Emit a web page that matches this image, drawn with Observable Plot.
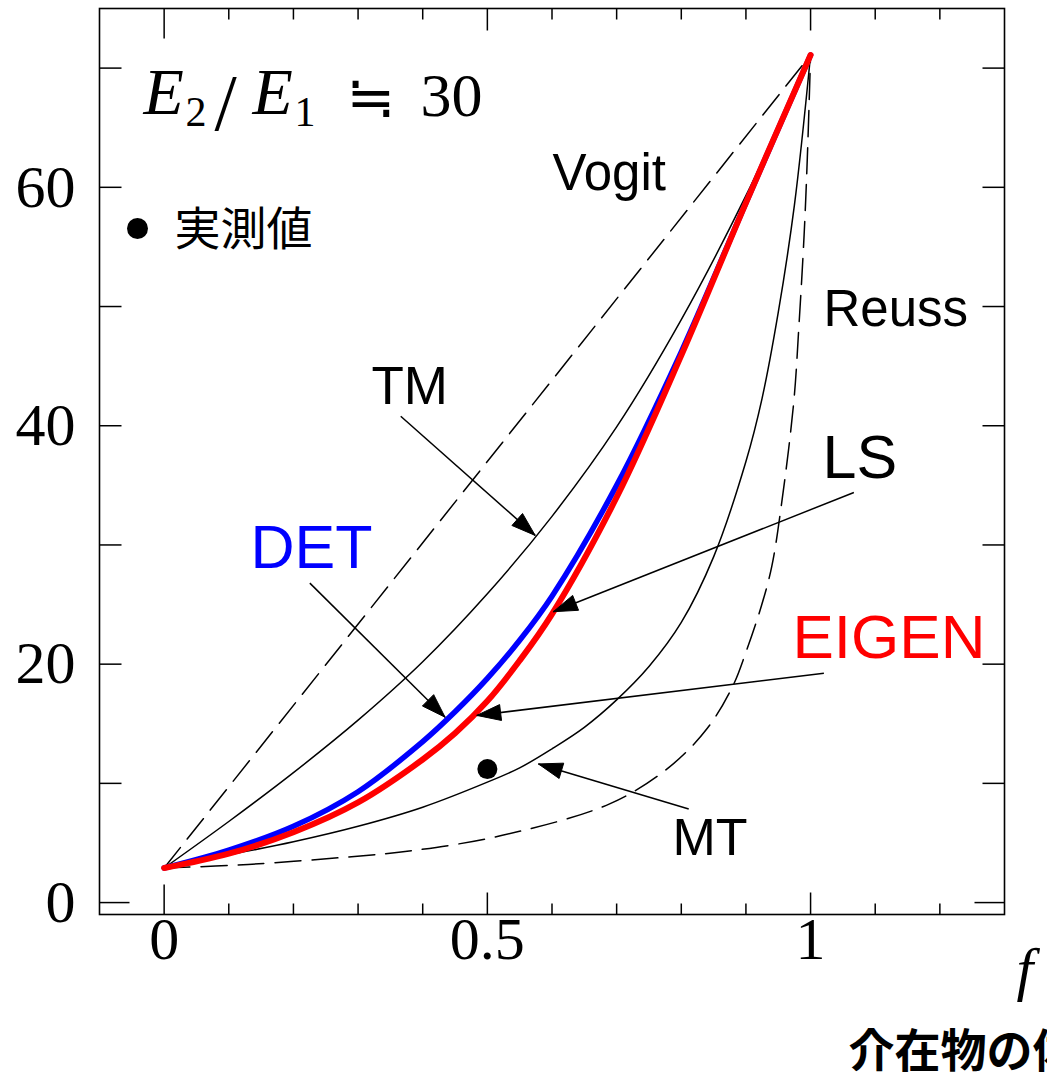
<!DOCTYPE html>
<html><head><meta charset="utf-8">
<script src="https://cdn.jsdelivr.net/npm/d3@7"></script>
<script src="https://cdn.jsdelivr.net/npm/@observablehq/plot@0.6"></script>
<style>html,body{margin:0;padding:0;background:#fff;overflow:hidden}</style>
</head><body><div id="chart"></div>
<script>
// ---- data (f = volume fraction of inclusion, E = modulus) ----
const voigtF = [0, 1];
const voigtE = [2.9, 71.1];

const reussF = [0, 0.13, 0.29, 0.39, 0.52, 0.69, 0.78, 0.84, 0.88, 0.90, 0.924, 0.94, 0.955, 0.974, 0.982, 0.99, 0.995, 1];
const reussE = [2.9, 3.2, 3.85, 4.4, 5.6, 8.3, 11.3, 14.6, 18.2, 21.0, 24.9, 28.2, 33.4, 42.0, 48.4, 56.0, 62.5, 71.1];

const mtF = [0, 0.1, 0.2, 0.3, 0.4, 0.5, 0.55, 0.6, 0.65, 0.7, 0.75, 0.8, 0.85, 0.9, 0.925, 0.95, 0.975, 1];
const mtE = [2.9, 4.0, 5.1, 6.4, 8.0, 10.1, 11.3, 12.9, 14.7, 17.0, 19.8, 23.5, 29.0, 37.0, 42.3, 49.5, 58.5, 71.1];

const tmF = [0, 0.1, 0.2, 0.3, 0.4, 0.5, 0.6, 0.7, 0.8, 0.9, 1];
const tmE = [2.9, 6.8, 10.9, 15.3, 20.2, 25.9, 32.4, 39.9, 48.9, 59.3, 71.1];

const detF = [0, 0.1, 0.2, 0.3, 0.4, 0.45, 0.5, 0.55, 0.6, 0.7, 0.8, 0.9, 1];
const detE = [2.9, 4.4, 6.4, 9.3, 13.5, 16.0, 18.8, 22.0, 25.7, 35.0, 46.2, 58.7, 71.1];

const eigenF = [0, 0.1, 0.2, 0.3, 0.4, 0.45, 0.5, 0.55, 0.6, 0.7, 0.8, 0.9, 1];
const eigenE = [2.9, 4.1, 5.9, 8.4, 12.0, 14.2, 16.9, 20.3, 24.2, 34.0, 45.9, 58.7, 71.1];

const measuredF = [0.5];
const measuredE = [11.2];

// arrows: label -> curve
const arrowNames = ["TM", "DET", "LS", "EIGEN", "MT"];
const arrowFromF = [0.366, 0.2254, 1.067, 1.0206, 0.8115];
const arrowFromE = [40.8, 26.8, 34.4, 19.24, 7.85];
const arrowToF   = [0.574, 0.4346, 0.602, 0.4836, 0.579];
const arrowToE   = [30.8, 15.55, 24.4, 15.7, 11.63];

const xTickMinor = [0.1, 0.2, 0.3, 0.4, 0.6, 0.7, 0.8, 0.9, 1.1, 1.2];
const xTickMajor = [0.5, 1];
const xTickZero = [0];
const yTickMajor = [10, 20, 30, 40, 50, 60, 70];
const yTickZero = [0];
const xTickLabels = [0, 0.5, 1];
const yTickLabels = [0, 20, 40, 60];

// ---- layout ----
const W = 1047, H = 1072, mL = 99, mR = 43, mT = 8, mB = 158;
const xDom = [-0.1, 1.3], yDom = [-1, 75];
const kx = (W - mL - mR) / (xDom[1] - xDom[0]);
const ky = (H - mT - mB) / (yDom[1] - yDom[0]);

const rows = (F, E) => F.map((f, i) => ({f, E: E[i]}));
const tickSym = (dx, dy) => ({draw(ctx) { ctx.moveTo(0, 0); ctx.lineTo(dx, dy); }});
function headSym(theta) {
  const L = 24, w = 8, c = Math.cos(theta), s = Math.sin(theta);
  const p = [[0, 0], [-w, L], [w, L]].map(([x, y]) => [x * c - y * s, x * s + y * c]);
  return {draw(ctx) { ctx.moveTo(p[0][0], p[0][1]); ctx.lineTo(p[1][0], p[1][1]); ctx.lineTo(p[2][0], p[2][1]); ctx.closePath(); }};
}

const thin = {x: "f", y: "E", stroke: "black", strokeWidth: 1.5, curve: "catmull-rom"};
const dashed = {...thin, strokeDasharray: "26,11"};

const tickMarks = [];
function ticks(vals, len) {
  const o = {stroke: "black", strokeWidth: 1.5, fill: "none"};
  tickMarks.push(
    Plot.dot(vals, {...o, x: d => d, frameAnchor: "bottom", symbol: tickSym(0, -len)}),
    Plot.dot(vals, {...o, x: d => d, frameAnchor: "top", symbol: tickSym(0, len)})
  );
}
function yticks(vals, len) {
  const o = {stroke: "black", strokeWidth: 1.5, fill: "none"};
  tickMarks.push(
    Plot.dot(vals, {...o, y: d => d, frameAnchor: "left", symbol: tickSym(len, 0)}),
    Plot.dot(vals, {...o, y: d => d, frameAnchor: "right", symbol: tickSym(-len, 0)})
  );
}
ticks(xTickMinor, 11); ticks(xTickMajor, 22); ticks(xTickZero, 30);
yticks(yTickMajor, 22); yticks(yTickZero, 30);

const heads = arrowNames.map((n, i) => {
  const dx = (arrowToF[i] - arrowFromF[i]) * kx;
  const dy = -(arrowToE[i] - arrowFromE[i]) * ky;
  const th = Math.atan2(dx, -dy);
  return Plot.dot([i], {x: j => arrowToF[j], y: j => arrowToE[j], symbol: headSym(th), fill: "black", stroke: "black", strokeWidth: 1});
});

const sans = "'Liberation Sans', Arial, sans-serif";
const serif = "'Liberation Serif', 'Times New Roman', serif";
const cjk = "'Noto Sans CJK JP', sans-serif";
const lab = (t, dx, dy, o = {}) => Plot.text([t], {text: d => d, frameAnchor: "top-left", dx, dy, textAnchor: "start", lineAnchor: "bottom", fontFamily: sans, fill: "black", ...o});

const plot = Plot.plot({
  width: W, height: H,
  marginLeft: mL, marginRight: mR, marginTop: mT, marginBottom: mB,
  x: {domain: xDom, axis: null},
  y: {domain: yDom, axis: null},
  style: {background: "white"},
  marks: [
    Plot.frame({stroke: "black", strokeWidth: 1.6}),
    ...tickMarks,
    Plot.text(yTickLabels, {y: d => d, text: d => String(d), frameAnchor: "left", dx: -24, textAnchor: "end", fontSize: 60, fontFamily: serif, fill: "black"}),
    Plot.text(xTickLabels, {x: d => d, text: d => String(d), frameAnchor: "bottom", dy: 44, fontSize: 60, fontFamily: serif, fill: "black"}),
    Plot.line(rows(voigtF, voigtE), dashed),
    Plot.line(rows(reussF, reussE), dashed),
    Plot.line(rows(mtF, mtE), thin),
    Plot.line(rows(tmF, tmE), thin),
    Plot.line(rows(detF, detE), {...thin, stroke: "#0000ff", strokeWidth: 5.5}),
    Plot.line(rows(eigenF, eigenE), {...thin, stroke: "#ff0000", strokeWidth: 6}),
    Plot.dot(rows(measuredF, measuredE), {x: "f", y: "E", r: 10, fill: "black"}),
    Plot.link(arrowNames.map((n, i) => i), {x1: i => arrowFromF[i], y1: i => arrowFromE[i], x2: i => arrowToF[i], y2: i => arrowToE[i], stroke: "black", strokeWidth: 1.5}),
    ...heads,
    // curve labels
    lab("Vogit", 453, 181, {fontSize: 51}),
    lab("Reuss", 724, 317, {fontSize: 51}),
    lab("TM", 272, 395, {fontSize: 53}),
    lab("LS", 723, 469, {fontSize: 61}),
    lab("DET", 151, 559, {fontSize: 61, fill: "#0000ff"}),
    lab("EIGEN", 693, 649, {fontSize: 62, fill: "#ff0000"}),
    lab("MT", 573, 846, {fontSize: 52}),
    // legend
    Plot.dot([0], {frameAnchor: "top-left", dx: 38, dy: 220, r: 10.5, fill: "black"}),
    lab("実測値", 75, 236, {fontSize: 46, fontFamily: cjk}),
    // E2/E1 ≒ 30
    lab("E", 44, 105, {fontSize: 66, fontFamily: serif, fontStyle: "italic"}),
    lab("2", 86, 117, {fontSize: 42, fontFamily: serif}),
    lab("/", 115, 121, {fontSize: 80, fontFamily: serif}),
    lab("E", 153, 105, {fontSize: 66, fontFamily: serif, fontStyle: "italic"}),
    lab("1", 195, 117, {fontSize: 42, fontFamily: serif}),
    lab("≒", 247, 108, {fontSize: 58, fontFamily: "DejaVu Sans"}),
    lab("30", 321, 107, {fontSize: 62, fontFamily: serif}),
    // axis title
    Plot.text(["f"], {text: d => d, frameAnchor: "bottom-right", dx: 12, dy: 74, textAnchor: "start", lineAnchor: "bottom", fontSize: 60, fontFamily: serif, fontStyle: "italic", fill: "black"}),
    Plot.text(["介在物の体積率"], {text: d => d, frameAnchor: "bottom-left", dx: 749, dy: 152, textAnchor: "start", lineAnchor: "bottom", fontSize: 46, fontWeight: "bold", fontFamily: cjk, fill: "black"})
  ]
});
document.getElementById("chart").appendChild(plot);
</script>
</body></html>
